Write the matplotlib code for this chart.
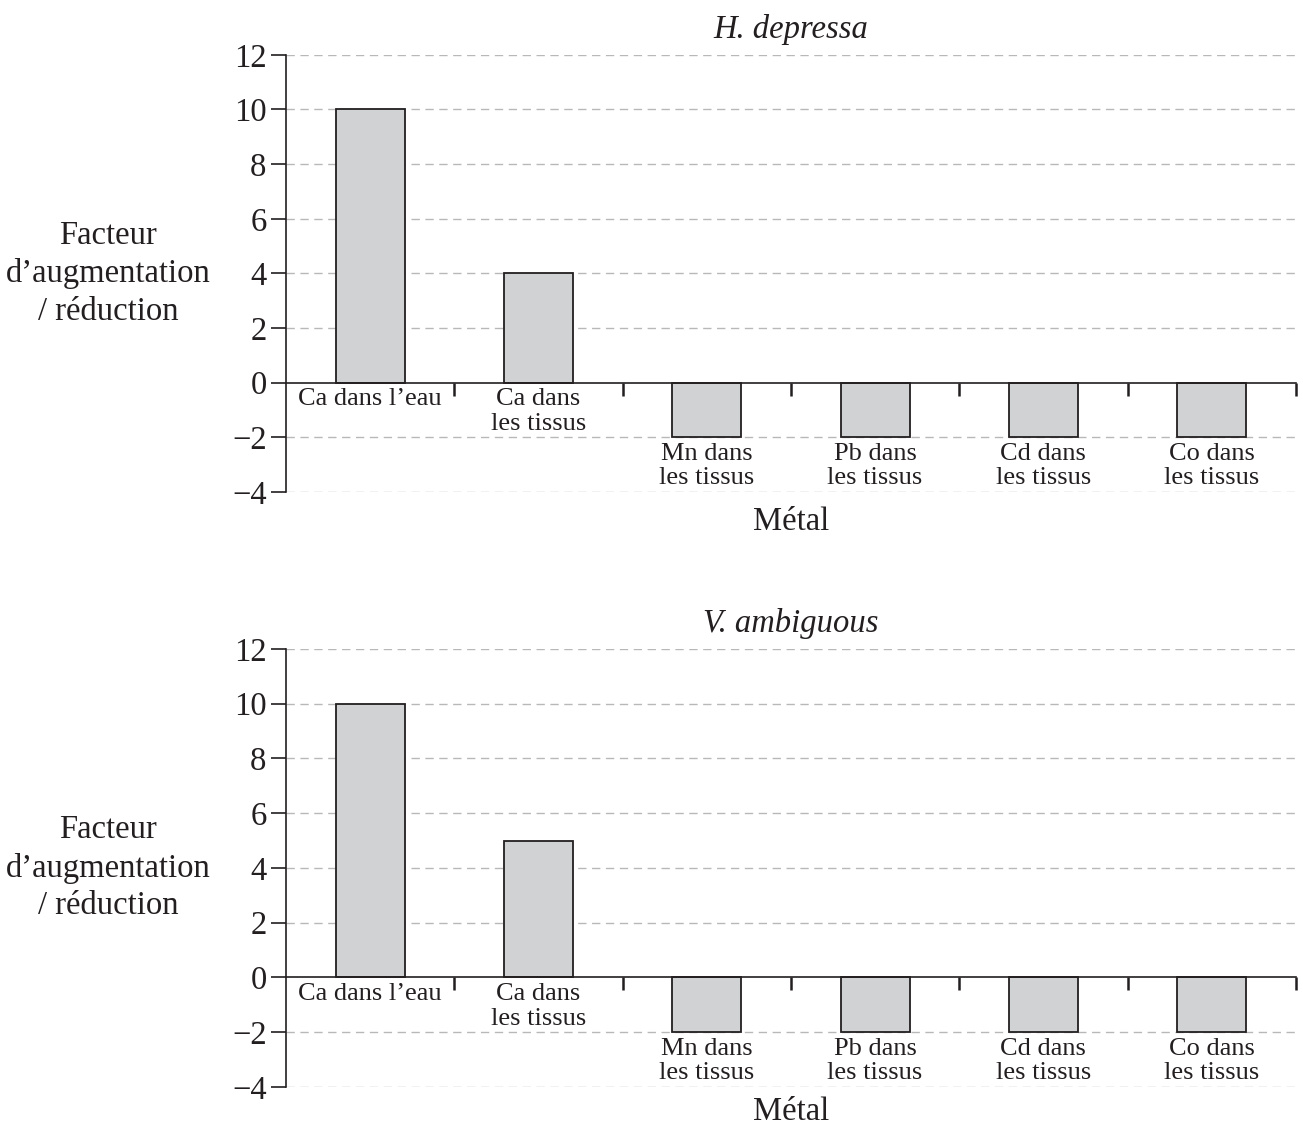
import matplotlib
matplotlib.use("Agg")
import matplotlib.pyplot as plt
from matplotlib.ticker import FixedLocator, NullFormatter

categories = ["Ca dans l\u2019eau", "Ca dans\nles tissus", "Mn dans\nles tissus",
              "Pb dans\nles tissus", "Cd dans\nles tissus", "Co dans\nles tissus"]
values_h = [10, 4, -2, -2, -2, -2]
values_v = [10, 5, -2, -2, -2, -2]
titles = ["H. depressa", "V. ambiguous"]
yticks = [-4, -2, 0, 2, 4, 6, 8, 10, 12]
ylabel = "Facteur\nd\u2019augmentation\n/ r\u00e9duction"
xlabel = "M\u00e9tal"

plt.rcParams['font.family'] = ['Liberation Serif', 'DejaVu Serif']
ink = "#231f20"
bar_fc = "#d1d2d4"
grid_c = "#b8b8b8"

fig = plt.figure(figsize=(13.03, 11.31), dpi=100)
rects = [[0.2195, 0.565, 0.775, 0.3865], [0.2195, 0.0389, 0.775, 0.3873]]
xl_y = [-0.068, -0.057]

for k, (vals, title) in enumerate(zip([values_h, values_v], titles)):
    ax = fig.add_axes(rects[k])
    x = list(range(len(categories)))
    ax.bar(x, vals, width=0.41, color=bar_fc, edgecolor=ink, linewidth=1.3, zorder=3)
    ax.set_xlim(-0.5, len(categories) - 0.5)
    ax.set_ylim(-4, 12)
    for y in yticks:
        if y != 0:
            ax.axhline(y, color=grid_c, linestyle=(0, (6, 4)), linewidth=1.0, zorder=1)
    ax.spines['top'].set_visible(False)
    ax.spines['right'].set_visible(False)
    ax.spines['bottom'].set_position(('data', 0))
    ax.spines['bottom'].set_zorder(4)
    for s in ['left', 'bottom']:
        ax.spines[s].set_color(ink)
        ax.spines[s].set_linewidth(1.2)
    ax.set_yticks(yticks)
    ax.set_yticklabels(["\u2212" + str(-t) if t < 0 else str(t) for t in yticks])
    ax.tick_params(axis='y', direction='out', length=11, width=1.2, color=ink,
                   labelsize=23.5, labelcolor=ink, pad=3)
    ax.xaxis.set_major_locator(FixedLocator([i + 0.5 for i in range(len(categories))]))
    ax.xaxis.set_major_formatter(NullFormatter())
    ax.tick_params(axis='x', direction='out', length=9, width=1.8, color=ink)
    for xi, v, lab in zip(x, vals, categories):
        ax.annotate(lab, xy=(xi, min(v, 0)), xytext=(0, -4), textcoords='offset points',
                    ha='center', va='top', fontsize=19, color=ink, linespacing=1.15)
    ax.set_title(title, fontsize=23.5, style='italic', color=ink, pad=12)
    ax.text(0.5, xl_y[k], xlabel, transform=ax.transAxes, ha='center', va='center',
            fontsize=23.5, color=ink)
    ax.text(-0.176, 0.5, ylabel, transform=ax.transAxes, ha='center', va='center',
            fontsize=23.5, color=ink, linespacing=1.3)

fig.savefig("out.png", dpi=100)
